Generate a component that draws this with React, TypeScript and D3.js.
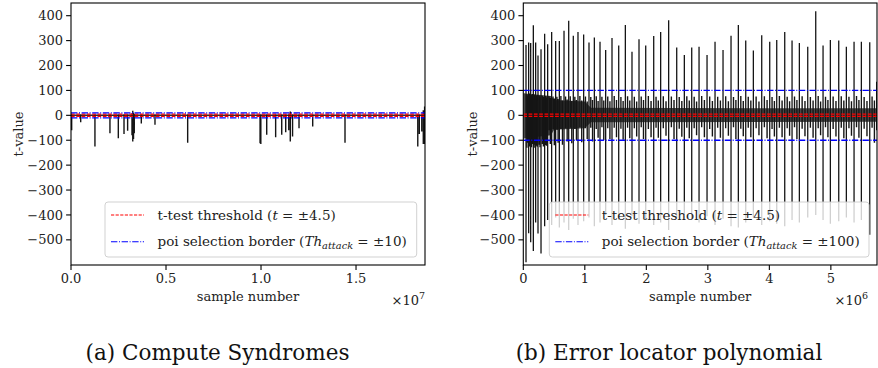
import React from "react";
import * as d3 from "d3";

// ---------- data ----------
const yTicks = [400, 300, 200, 100, 0, -100, -200, -300, -400, -500];
const leftXTicks = [0, 0.5, 1.0, 1.5];
const leftXTickLabels = ["0.0", "0.5", "1.0", "1.5"];
const rightXTicks = [0, 1, 2, 3, 4, 5];
const rightXTickLabels = ["0", "1", "2", "3", "4", "5"];

// (a) Compute Syndromes, sample number in units of 1e7
const leftSpikeX = [0.0035, 0.051, 0.126, 0.205, 0.249, 0.279, 0.298, 0.321, 0.325, 0.329, 0.333, 0.37, 0.442, 0.614, 0.995, 0.999, 1.03, 1.077, 1.109, 1.13, 1.146, 1.154, 1.166, 1.2, 1.272, 1.442, 1.825, 1.833, 1.846, 1.854, 1.861];
const leftSpikeHi = [3, 3, 3, 3, 3, 3, 3, 8, 18, 10, 5, 3, 3, 3, 3, 3, 3, 3, 3, 3, 3, 15, 3, 3, 3, 3, 3, 3, 3, 20, 35];
const leftSpikeLo = [-60, -28, -125, -72, -92, -75, -62, -80, -105, -95, -72, -33, -38, -110, -112, -115, -78, -88, -78, -68, -60, -105, -85, -52, -45, -110, -125, -75, -65, -115, -115];
const leftCoreX = [0, 1.863];
const leftCoreHi = [3, 3];
const leftCoreLo = [-3, -3];

// (b) Error locator polynomial, sample number in units of 1e6
const rightMajorX = [0.044, 0.087, 0.12, 0.163, 0.201, 0.239, 0.288, 0.347, 0.396, 0.461, 0.526, 0.586, 0.662, 0.738, 0.813, 0.889, 0.981, 1.068, 1.155, 1.247, 1.339, 1.442, 1.551, 1.659, 1.767, 1.881, 1.99, 2.12, 2.233, 2.363, 2.494, 2.618, 2.738, 2.857, 2.987, 3.117, 3.247, 3.377, 3.496, 3.616, 3.74, 3.876, 4.006, 4.12, 4.25, 4.369, 4.488, 4.624, 4.754, 4.873, 4.992, 5.128, 5.252, 5.377, 5.496, 5.632, 5.745];
const rightMajorHi = [282, 292, 290, 362, 292, 240, 265, 328, 285, 335, 298, 298, 340, 380, 320, 335, 325, 292, 312, 295, 262, 310, 280, 363, 255, 305, 280, 318, 335, 382, 272, 242, 272, 275, 242, 295, 262, 320, 363, 300, 260, 322, 295, 302, 335, 300, 290, 275, 418, 280, 302, 300, 275, 295, 295, 293, 135];
const rightMajorLo = [-590, -474, -510, -545, -430, -475, -555, -445, -420, -440, -410, -450, -430, -460, -415, -440, -425, -410, -445, -430, -400, -440, -420, -455, -405, -435, -420, -440, -430, -460, -415, -400, -420, -430, -405, -440, -415, -445, -450, -430, -410, -440, -425, -435, -445, -420, -430, -410, -400, -420, -435, -425, -410, -430, -420, -480, -60];
const rightMinorX = [0.058, 0.072, 0.098, 0.109, 0.134, 0.149, 0.176, 0.189, 0.214, 0.227, 0.255, 0.272, 0.308, 0.327, 0.363, 0.38, 0.418, 0.439, 0.483, 0.504, 0.546, 0.566, 0.611, 0.637, 0.687, 0.713, 0.763, 0.788, 0.838, 0.864, 0.92, 0.95, 1.01, 1.039, 1.097, 1.126, 1.186, 1.216, 1.278, 1.308, 1.373, 1.408, 1.478, 1.515, 1.587, 1.623, 1.695, 1.731, 1.805, 1.843, 1.917, 1.954, 2.033, 2.077, 2.158, 2.195, 2.276, 2.32, 2.407, 2.45, 2.535, 2.577, 2.658, 2.698, 2.778, 2.817, 2.9, 2.944, 3.03, 3.074, 3.16, 3.204, 3.29, 3.334, 3.417, 3.456, 3.536, 3.576, 3.657, 3.699, 3.785, 3.831, 3.919, 3.963, 4.044, 4.082, 4.163, 4.207, 4.29, 4.329, 4.409, 4.448, 4.533, 4.579, 4.667, 4.711, 4.794, 4.833, 4.913, 4.952, 5.037, 5.083, 5.169, 5.211, 5.294, 5.335, 5.417, 5.456, 5.541, 5.587, 5.67, 5.708];
const rightMinorHi = [85, 80, 88, 78, 82, 86, 80, 84, 78, 82, 80, 76, 79, 74, 78, 72, 77, 70, 76, 68, 75, 66, 78, 60, 76, 64, 77, 58, 75, 62, 78, 60, 76, 55, 74, 62, 77, 58, 75, 60, 76, 56, 78, 62, 74, 58, 77, 60, 75, 55, 76, 62, 78, 58, 75, 60, 77, 56, 76, 62, 74, 58, 77, 60, 75, 55, 78, 62, 76, 58, 75, 60, 77, 56, 74, 62, 78, 58, 75, 60, 76, 55, 77, 62, 74, 58, 78, 60, 75, 56, 76, 62, 77, 58, 74, 60, 78, 55, 75, 62, 76, 58, 77, 60, 75, 56, 78, 62, 74, 58, 76, 60];
const rightMinorLo = [-130, -110, -125, -120, -128, -115, -130, -118, -122, -126, -118, -128, -115, -125, -120, -122, -60, -115, -55, -120, -58, -110, -55, -118, -52, -105, -50, -112, -55, -100, -48, -108, -52, -95, -50, -105, -55, -90, -48, -100, -52, -95, -50, -88, -54, -98, -50, -92, -52, -85, -48, -95, -55, -88, -50, -90, -52, -82, -48, -95, -54, -86, -50, -92, -52, -80, -48, -88, -55, -85, -50, -90, -52, -82, -48, -95, -54, -84, -50, -88, -52, -80, -48, -92, -55, -85, -50, -88, -52, -82, -48, -95, -54, -84, -50, -90, -52, -80, -48, -88, -55, -85, -50, -92, -52, -82, -48, -90, -54, -84, -50, -110];
const rightCoreX = [0, 0.03, 0.45, 0.5, 1.0, 1.1, 5.75];
const rightCoreHi = [90, 88, 78, 62, 55, 30, 28];
const rightCoreLo = [-95, -92, -80, -58, -52, -28, -26];

const thresholdT = 4.5;
const leftBorder = 10;
const rightBorder = 100;

// ---------- layout ----------
const FONT = "'DejaVu Serif', 'Liberation Serif', serif";
const TXT = "#222";
const TRACE = "#151515";
const yTop = 3;
const yBottom = 265;
const yDomain: [number, number] = [-601, 451];

type PanelProps = {
  x0: number;
  x1: number;
  xMax: number;
  xTicks: number[];
  xTickLabels: string[];
  expo: string;
  expoRight: number;
  spikeX: number[];
  spikeHi: number[];
  spikeLo: number[];
  spikeX2?: number[];
  spikeHi2?: number[];
  spikeLo2?: number[];
  coreX: number[];
  coreHi: number[];
  coreLo: number[];
  coreOpacity: number;
  border: number;
  borderLabel: string;
  legendX: number;
  legendW: number;
  yLabelX: number;
  caption: string;
  captionX: number;
  clipId: string;
};

function Panel(p: PanelProps) {
  const x = d3.scaleLinear().domain([0, p.xMax]).range([p.x0, p.x1]);
  const y = d3.scaleLinear().domain(yDomain).range([yBottom, yTop]);

  const spikePath = (xs: number[], hi: number[], lo: number[]) =>
    xs.map((v, i) => `M${x(v)},${y(hi[i])}L${x(v)},${y(lo[i])}`).join("");

  const area = d3
    .area<number>()
    .x((_, i) => x(p.coreX[i]))
    .y0((_, i) => y(p.coreLo[i]))
    .y1((_, i) => y(p.coreHi[i]));

  const legY1 = 215;
  const legY2 = 241.7;
  const lx0 = p.legendX + 6;
  const lx1 = p.legendX + 39;
  const tx = p.legendX + 52.5;

  return (
    <g>
      <defs>
        <clipPath id={p.clipId}>
          <rect x={p.x0} y={yTop} width={p.x1 - p.x0} height={yBottom - yTop} />
        </clipPath>
      </defs>
      <g clipPath={`url(#${p.clipId})`}>
        <path d={area(p.coreX) || ""} fill={TRACE} fillOpacity={p.coreOpacity} />
        <path d={spikePath(p.spikeX, p.spikeHi, p.spikeLo)} stroke={TRACE} strokeWidth={1.4} fill="none" />
        {p.spikeX2 && (
          <path d={spikePath(p.spikeX2, p.spikeHi2!, p.spikeLo2!)} stroke={TRACE} strokeWidth={1.3} fill="none" />
        )}
        {[thresholdT, -thresholdT].map((v) => (
          <line key={"t" + v} x1={p.x0} x2={p.x1} y1={y(v)} y2={y(v)} stroke="red" strokeWidth={1.3} strokeDasharray="3.7,1.6" />
        ))}
        {[p.border, -p.border].map((v) => (
          <line key={"b" + v} x1={p.x0} x2={p.x1} y1={y(v)} y2={y(v)} stroke="blue" strokeWidth={1.3} strokeDasharray="6.4,1.6,1,1.6" />
        ))}
      </g>
      {/* legend */}
      <rect x={p.legendX} y={202} width={p.legendW} height={55} rx={3} fill="white" fillOpacity={0.8} stroke="#cccccc" strokeOpacity={0.9} strokeWidth={1} />
      <line x1={lx0} x2={lx1} y1={legY1} y2={legY1} stroke="red" strokeWidth={1.1} strokeDasharray="3.2,1.4" />
      <line x1={lx0} x2={lx1} y1={legY2} y2={legY2} stroke="blue" strokeWidth={1.1} strokeDasharray="6.4,1.6,1,1.6" />
      <text x={tx} y={legY1 + 4.7} fontFamily={FONT} fontSize={13.5} fill={TXT}>
        t-test threshold (<tspan fontStyle="italic">t</tspan> = ±4.5)
      </text>
      <text x={tx} y={legY2 + 4.7} fontFamily={FONT} fontSize={13.5} fill={TXT}>
        poi selection border (<tspan fontStyle="italic">Th</tspan>
        <tspan fontStyle="italic" fontSize={9.8} dy={3}>attack</tspan>
        <tspan dy={-3}> = ±{p.borderLabel})</tspan>
      </text>
      {/* frame */}
      <rect x={p.x0} y={yTop} width={p.x1 - p.x0} height={yBottom - yTop} fill="none" stroke="#000" strokeWidth={1.1} />
      {/* y axis */}
      {yTicks.map((t) => (
        <g key={"y" + t}>
          <line x1={p.x0 - 4.9} x2={p.x0} y1={y(t)} y2={y(t)} stroke="#000" strokeWidth={1.1} />
          <text x={p.x0 - 8} y={y(t) + 4.6} textAnchor="end" fontFamily={FONT} fontSize={13} fill={TXT}>
            {t < 0 ? "−" + Math.abs(t) : String(t)}
          </text>
        </g>
      ))}
      <text transform={`translate(${p.yLabelX},${(yTop + yBottom) / 2}) rotate(-90)`} textAnchor="middle" fontFamily={FONT} fontSize={13} fill={TXT}>
        t-value
      </text>
      {/* x axis */}
      {p.xTicks.map((t, i) => (
        <g key={"x" + t}>
          <line x1={x(t)} x2={x(t)} y1={yBottom} y2={yBottom + 4.9} stroke="#000" strokeWidth={1.1} />
          <text x={x(t)} y={283} textAnchor="middle" fontFamily={FONT} fontSize={13} fill={TXT}>
            {p.xTickLabels[i]}
          </text>
        </g>
      ))}
      <text x={(p.x0 + p.x1) / 2} y={301} textAnchor="middle" fontFamily={FONT} fontSize={13} fill={TXT}>
        sample number
      </text>
      <text x={p.expoRight} y={305} textAnchor="end" fontFamily={FONT} fontSize={13} fill={TXT}>
        ×10<tspan fontSize={9.5} dy={-6}>{p.expo}</tspan>
      </text>
      {/* caption */}
      <text x={p.captionX} y={360} textAnchor="middle" fontFamily={FONT} fontSize={21.5} fill="#111">
        {p.caption}
      </text>
    </g>
  );
}

export default function App() {
  return (
    <svg width={878} height={368} style={{ position: "absolute", left: 0, top: 0, background: "white" }}>
      <rect x={0} y={0} width={878} height={368} fill="white" />
      <Panel
        x0={71}
        x1={425}
        xMax={1.863}
        xTicks={leftXTicks}
        xTickLabels={leftXTickLabels}
        expo="7"
        expoRight={425}
        spikeX={leftSpikeX}
        spikeHi={leftSpikeHi}
        spikeLo={leftSpikeLo}
        coreX={leftCoreX}
        coreHi={leftCoreHi}
        coreLo={leftCoreLo}
        coreOpacity={0.9}
        border={leftBorder}
        borderLabel="10"
        legendX={105}
        legendW={311.7}
        yLabelX={23}
        caption="(a) Compute Syndromes"
        captionX={217.5}
        clipId="clipA"
      />
      <Panel
        x0={523.3}
        x1={877}
        xMax={5.75}
        xTicks={rightXTicks}
        xTickLabels={rightXTickLabels}
        expo="6"
        expoRight={868}
        spikeX={rightMinorX}
        spikeHi={rightMinorHi}
        spikeLo={rightMinorLo}
        spikeX2={rightMajorX}
        spikeHi2={rightMajorHi}
        spikeLo2={rightMajorLo}
        coreX={rightCoreX}
        coreHi={rightCoreHi}
        coreLo={rightCoreLo}
        coreOpacity={0.78}
        border={rightBorder}
        borderLabel="100"
        legendX={549.3}
        legendW={319.7}
        yLabelX={476.7}
        caption="(b) Error locator polynomial"
        captionX={669}
        clipId="clipB"
      />
    </svg>
  );
}
